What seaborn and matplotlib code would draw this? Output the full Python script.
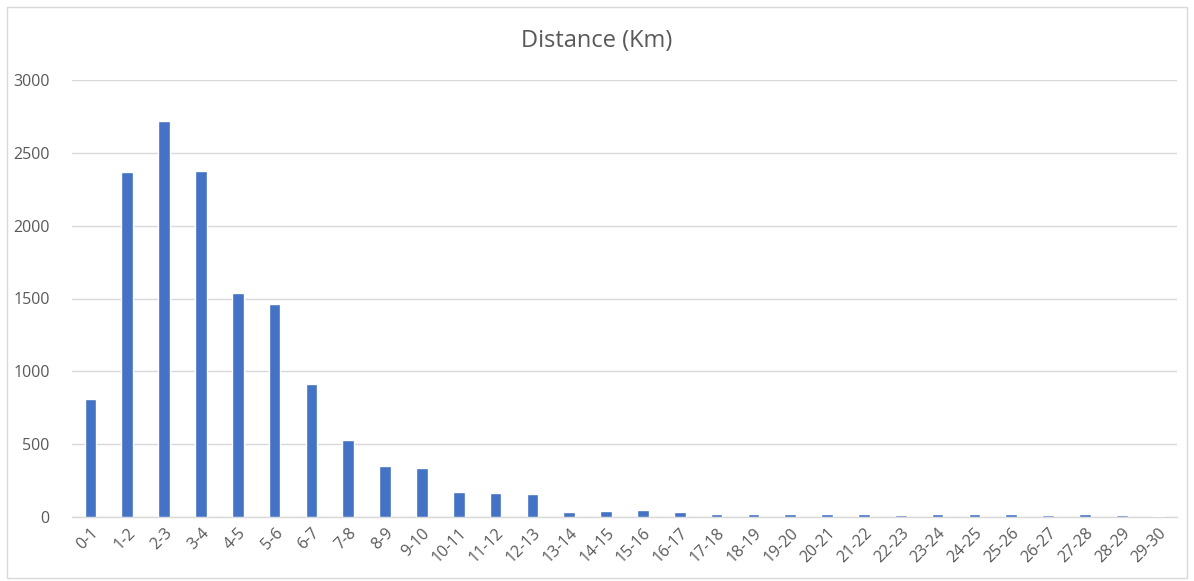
import matplotlib
matplotlib.use("Agg")
import matplotlib.pyplot as plt
import seaborn as sns
import pandas as pd
from matplotlib.patches import Rectangle

categories = ["0-1", "1-2", "2-3", "3-4", "4-5", "5-6", "6-7", "7-8", "8-9", "9-10",
              "10-11", "11-12", "12-13", "13-14", "14-15", "15-16", "16-17", "17-18",
              "18-19", "19-20", "20-21", "21-22", "22-23", "23-24", "24-25", "25-26",
              "26-27", "27-28", "28-29", "29-30"]
counts = [812, 2370, 2720, 2378, 1540, 1465, 912, 528, 352, 335,
          173, 165, 157, 32, 39, 46, 32, 21, 23, 18,
          18, 23, 16, 18, 21, 21, 12, 23, 14, 9]
yticks = [0, 500, 1000, 1500, 2000, 2500, 3000]

df = pd.DataFrame({"range": categories, "count": counts})

sns.set_theme(style="white")
plt.rcParams["font.family"] = ["Open Sans", "DejaVu Sans"]

fig = plt.figure(figsize=(11.94, 5.81), dpi=100)
ax = fig.add_axes([72/1194, 1-517/581, 1105/1194, 437/581])

sns.barplot(data=df, x="range", y="count", color="#4472C4", saturation=1,
            width=0.32, ax=ax, zorder=3)

ax.set_ylim(0, 3000)
ax.set_xlim(-0.5, len(categories) - 0.5)
ax.set_yticks(yticks)
ax.set_yticklabels([str(v) for v in yticks])
ax.yaxis.grid(True, color="#D9D9D9", linewidth=1.0, zorder=0)
ax.set_axisbelow(True)
for s in ["top", "right", "left"]:
    ax.spines[s].set_visible(False)
ax.spines["bottom"].set_color("#D9D9D9")
ax.spines["bottom"].set_linewidth(1.0)
ax.set_xlabel("")
ax.set_ylabel("")
ax.tick_params(axis="y", length=0, pad=16, labelsize=11.5, labelcolor="#595959")
ax.tick_params(axis="x", length=0, pad=6, labelsize=11.5, labelcolor="#595959")
for lab in ax.get_xticklabels():
    lab.set_rotation(45)
    lab.set_ha("right")
    lab.set_va("top")
    lab.set_rotation_mode("anchor")

fig.text(0.5, 1-41/581, "Distance (Km)", ha="center", va="center",
         fontsize=17, color="#595959")

fig.patches.append(Rectangle((7/1194, 1-578/581), 1180/1194, 571/581,
                             transform=fig.transFigure, fill=False,
                             edgecolor="#D9D9D9", linewidth=1.0))

fig.savefig("out.png", dpi=100, facecolor="white")
